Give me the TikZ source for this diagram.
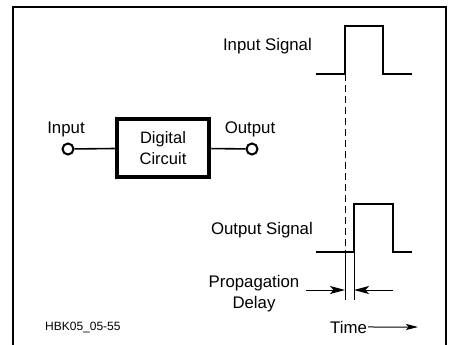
\documentclass[tikz,border=0pt]{standalone}
\usepackage{fontspec}
\setmainfont{Liberation Sans}
\usetikzlibrary{arrows.meta}
\begin{document}
\begin{tikzpicture}[x=1pt,y=-1pt,
  lbl/.style={inner sep=0pt,font=\fontsize{16.8}{19}\selectfont},
  wave/.style={line width=1.8pt,line join=miter},
  thin/.style={line width=1pt},
  term/.style={circle,draw,line width=2pt,minimum size=11pt,inner sep=0pt,fill=white},
  dtip/.style={-{Stealth[length=15pt,width=8pt,inset=3.5pt]}}
]
\useasboundingbox (0,0) rectangle (452,345);
% frame
\draw[line width=2.6pt] (13,346) -- (13,7) -- (446,7) -- (446,346);
% circuit
\node[draw,line width=4.5pt,minimum width=92pt,minimum height=58pt,inner sep=0pt,
      align=center,font=\fontsize{16.5}{21}\selectfont] (dc) at (163,148) {Digital\\Circuit};
\node[term] (in) at (68,149) {};
\node[term] (out) at (252,149) {};
\draw[line width=1.6pt] (in) -- (dc);
\draw[line width=1.6pt] (dc) -- (out);
\node[lbl,anchor=base] (inl) at (66,133) {Input};
\node[lbl,anchor=base] (outl) at (250,133) {Output};
% input signal
\node[lbl,anchor=base east] (isig) at (312,51) {Input Signal};
\coordinate (i0) at (316,74);
\coordinate (i1) at (345,74);
\coordinate (i4) at (412,74);
\draw[wave] (i0) -- (i1) -- (345,26) -- (383,26) -- (383,74) -- (i4);
% output signal
\node[lbl,anchor=base east] (osig) at (313,234) {Output Signal};
\draw[wave] (316,252) -- (354,252) -- (354,204) -- (393,204) -- (393,252) -- (412,252);
% reference lines
\coordinate (d0) at (345,252);
\coordinate (d1) at (345,300);
\coordinate (e1) at (354,300);
\draw[thin,dash pattern=on 7pt off 4pt] (i1) -- (d0);
\draw[thin] (d0) -- (d1);
\draw[thin] (354,252) -- (e1);
% delay arrows
\coordinate (la) at (306,290);
\coordinate (lt) at (345,290);
\coordinate (ra) at (393,290);
\coordinate (rt) at (354,290);
\draw[thin,dtip] (la) -- (lt);
\draw[thin,dtip] (ra) -- (rt);
\node[lbl,align=center,font=\fontsize{16.8}{21}\selectfont] (pd) at (254,294) {Propagation\\Delay};
% time
\node[lbl,anchor=base west] (time) at (330,333) {Time};
\coordinate (tend) at (418,327);
\draw[thin,-{Stealth[length=12pt,width=6pt,inset=2.5pt]}] (time.east) ++(1,0) -- (tend);
% tag
\node[inner sep=0pt,anchor=base west,font=\fontsize{12}{14}\selectfont] (tag) at (45,330) {HBK05\_05-55};
\end{tikzpicture}
\end{document}
